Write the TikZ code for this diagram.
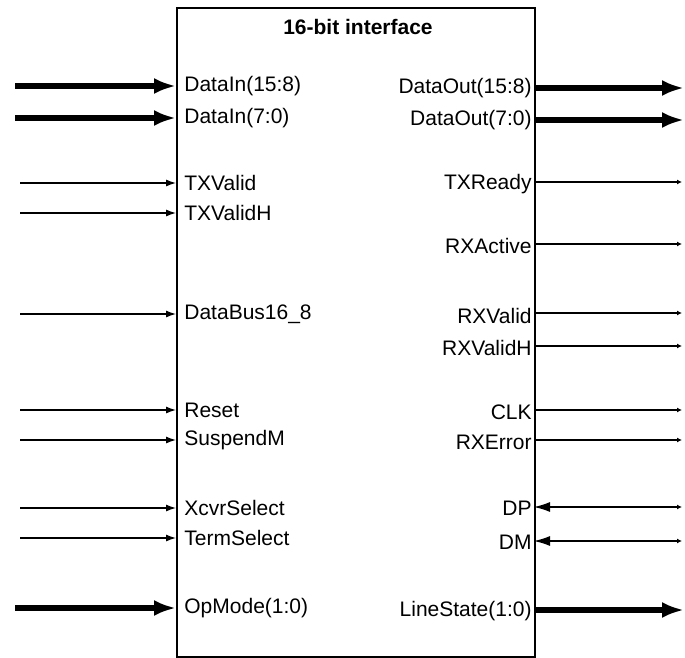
\documentclass[tikz,border=0pt]{standalone}
\usepackage{fontspec}
\setmainfont{Liberation Sans}
\usetikzlibrary{arrows.meta}

\tikzset{
  port/.style={font=\fontsize{10.5}{12}\selectfont, inner ysep=1pt},
  inlbl/.style={port, anchor=west, inner xsep=4pt},
  outlbl/.style={port, anchor=east, inner xsep=1pt},
  bus/.style={line width=2.8pt, -{Latex[length=11pt,width=8pt]}},
  sig/.style={line width=0.6pt, -{Latex[length=5pt,width=3.5pt]}},
  osig/.style={line width=0.6pt, -{Latex[length=2.5pt,width=2.5pt]}},
  bidir/.style={line width=0.6pt, {Latex[length=8pt,width=5pt]}-{Latex[length=2.5pt,width=2.5pt]}},
}

\begin{document}
\begin{tikzpicture}[x=0.5pt,y=-0.5pt]
\useasboundingbox (0,0) rectangle (685,658);
% interface block
\node[draw, line width=1pt, anchor=north west, minimum width=179pt, minimum height=324.5pt, inner sep=0pt] (ifc) at (176,7) {};
\node[font=\bfseries\fontsize{10.5}{12}\selectfont] (title) at (358,27) {16-bit interface};

% inputs
\node[inlbl] (dinh) at (176,86) {DataIn(15:8)};
\node[inlbl] (dinl) at (176,118) {DataIn(7:0)};
\node[inlbl] (txv) at (176,183) {TXValid};
\node[inlbl] (txvh) at (176,213) {TXValidH};
\node[inlbl] (dbus) at (176,314) {DataBus16\_8};
\node[inlbl] (rst) at (176,410) {Reset};
\node[inlbl] (susp) at (176,440) {SuspendM};
\node[inlbl] (xcvr) at (176,508) {XcvrSelect};
\node[inlbl] (term) at (176,538) {TermSelect};
\node[inlbl] (opm) at (176,608) {OpMode(1:0)};
\coordinate (dinh-src) at (15,86);
\coordinate (dinl-src) at (15,118);
\coordinate (txv-src) at (20,183);
\coordinate (txvh-src) at (20,213);
\coordinate (dbus-src) at (20,314);
\coordinate (rst-src) at (20,410);
\coordinate (susp-src) at (20,440);
\coordinate (xcvr-src) at (20,508);
\coordinate (term-src) at (20,538);
\coordinate (opm-src) at (15,608);
\draw[bus] (dinh-src) -- (dinh.west);
\draw[bus] (dinl-src) -- (dinl.west);
\draw[sig] (txv-src) -- (txv.west);
\draw[sig] (txvh-src) -- (txvh.west);
\draw[sig] (dbus-src) -- (dbus.west);
\draw[sig] (rst-src) -- (rst.west);
\draw[sig] (susp-src) -- (susp.west);
\draw[sig] (xcvr-src) -- (xcvr.west);
\draw[sig] (term-src) -- (term.west);
\draw[bus] (opm-src) -- (opm.west);

% outputs
\node[outlbl] (douth) at (534,88) {DataOut(15:8)};
\node[outlbl] (doutl) at (534,120) {DataOut(7:0)};
\node[outlbl] (txr) at (534,184) {TXReady};
\node[outlbl] (rxa) at (534,246) {RXActive};
\node[outlbl] (rxv) at (534,316) {RXValid};
\node[outlbl] (rxvh) at (534,348) {RXValidH};
\node[outlbl] (clk) at (534,412) {CLK};
\node[outlbl] (rxe) at (534,442) {RXError};
\node[outlbl] (dp) at (534,508) {DP};
\node[outlbl] (dm) at (534,542) {DM};
\node[outlbl] (lst) at (534,611) {LineState(1:0)};
\coordinate (douth-dst) at (684,88);
\coordinate (doutl-dst) at (684,120);
\coordinate (txr-dst) at (682,182);
\coordinate (rxa-dst) at (682,244);
\coordinate (rxv-dst) at (682,313);
\coordinate (rxvh-dst) at (682,346);
\coordinate (clk-dst) at (682,410);
\coordinate (rxe-dst) at (682,440);
\coordinate (dp-dst) at (682,507);
\coordinate (dm-dst) at (682,541);
\coordinate (lst-dst) at (684,610);
\draw[bus] (douth.east) -- (douth-dst);
\draw[bus] (doutl.east) -- (doutl-dst);
\draw[osig] (txr.east |- txr-dst) -- (txr-dst);
\draw[osig] (rxa.east |- rxa-dst) -- (rxa-dst);
\draw[osig] (rxv.east |- rxv-dst) -- (rxv-dst);
\draw[osig] (rxvh.east |- rxvh-dst) -- (rxvh-dst);
\draw[osig] (clk.east |- clk-dst) -- (clk-dst);
\draw[osig] (rxe.east |- rxe-dst) -- (rxe-dst);
\draw[bidir] (dp.east |- dp-dst) -- (dp-dst);
\draw[bidir] (dm.east |- dm-dst) -- (dm-dst);
\draw[bus] (lst.east |- lst-dst) -- (lst-dst);
\end{tikzpicture}
\end{document}
